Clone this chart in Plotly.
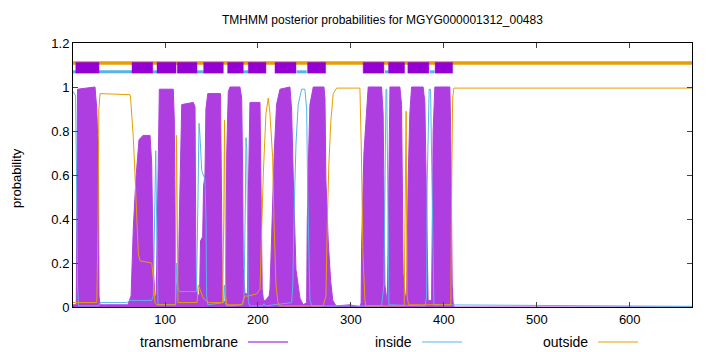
import plotly.graph_objects as go

title = "TMHMM posterior probabilities for MGYG000001312_00483"
seq_len = 667

# transmembrane posterior (residue, probability) breakpoints
tm_x = [1, 4.5, 5.0, 5.9, 24.7, 26.6, 27.5, 28.3, 29.0, 30, 35, 60, 63.5, 64.2, 65.9, 68.8, 72.0, 76.3,
        83.9, 85.7, 87.4, 89.2, 90.5, 91.1, 92.5, 93.9, 108.9, 110.0, 111.0, 111.5, 112.6, 114.5, 115.4,
        117, 118, 130.4, 132.3, 133.3, 134.7, 137.1, 138.2, 140.5, 141.5, 143, 144, 146, 159.7, 160.8,
        161.8, 162.7, 165.3, 165.8, 166.4, 168.1, 169.9, 180.6, 182.5, 183.6, 184.2, 186.0, 188.8, 189.6,
        191.4, 202.2, 203.2, 204.6, 206, 208, 212, 212.9, 214.7, 217.5, 220, 223.7, 234.4, 236.2, 238.0,
        240.9, 245.2, 248.7, 252.4, 253.0, 254.5, 255.9, 259.5, 271.0, 272.1, 273.1, 275.6, 278.2, 280.5,
        284, 298.9, 310, 311, 311.5, 314.0, 316.9, 318.6, 333.0, 334.7, 336.6, 339, 339.5, 340.5, 341.2,
        342, 352.7, 354.5, 355.5, 356.2, 358.5, 360, 361.6, 363.4, 365.3, 377.7, 379.6, 381.4, 383.1,
        386.8, 387.4, 388.5, 390.3, 406.5, 407.5, 408.5, 409.0, 410.0, 411, 667]
tm_y = [0.01, 0.01, 0.35, 0.99, 1.0, 0.9, 0.78, 0.75, 0.05, 0.01, 0.01, 0.01, 0.05, 0.14, 0.36, 0.59, 0.76, 0.78,
        0.78, 0.65, 0.17, 0.05, 0.05, 0.2, 0.7, 0.99, 0.99, 0.85, 0.3, 0.05, 0.1, 0.15, 0.4,
        0.85, 0.92, 0.93, 0.91, 0.12, 0.06, 0.05, 0.3, 0.32, 0.55, 0.6, 0.9, 0.97, 0.97, 0.5,
        0.03, 0.02, 0.03, 0.3, 0.7, 0.98, 1.0, 1.0, 0.95, 0.6, 0.18, 0.06, 0.06, 0.5,
        0.93, 0.93, 0.61, 0.08, 0.03, 0.03, 0.05, 0.08, 0.32, 0.7, 0.92, 0.99, 1.0, 0.9, 0.59,
        0.17, 0.04, 0.01, 0.02, 0.38, 0.7, 0.92, 1.0, 1.0, 0.95, 0.58, 0.3, 0.12, 0.03,
        0.005, 0.01, 0.0, 0.02, 0.27, 0.7, 0.92, 1.0, 1.0, 0.88, 0.1, 0.02, 0.1, 0.6, 0.92,
        1.0, 1.0, 0.92, 0.5, 0.15, 0.05, 0.05, 0.58, 0.88, 1.0, 1.0, 0.93, 0.5, 0.03,
        0.03, 0.4, 0.8, 1.0, 1.0, 0.77, 0.3, 0.1, 0.02, 0.0, 0.0]

# inside posterior
in_x = [1, 3.8, 4.8, 5.9, 7.0, 28.8, 30.1, 58.8, 62.4, 85.7, 87.4, 88.5, 90.0, 91.0, 91.7, 92.5, 111.5,
        112.0, 112.6, 113.5, 114.3, 116, 133.8, 135.5, 136.6, 137.6, 139.5, 143.0, 144.1, 144.8, 146,
        163.0, 163.8, 164.8, 166, 183.5, 185, 186.5, 187.1, 188.0, 188.8, 189.6, 191, 205, 206.5, 208,
        236.2, 237.5, 239, 241, 243.3, 247, 250.5, 252.4, 253.4, 254.8, 255.9, 258, 333, 335.5, 336.6,
        337.8, 338.6, 339.5, 340.9, 380, 381.4, 382.0, 384.2, 385.7, 387.4, 389.3, 667]
in_y = [0.98, 0.96, 0.6, 0.1, 0.005, 0.005, 0.02, 0.02, 0.03, 0.03, 0.05, 0.4, 0.71, 0.4, 0.08, 0.01, 0.01,
        0.1, 0.2, 0.1, 0.08, 0.07, 0.07, 0.5, 0.835, 0.78, 0.62, 0.58, 0.4, 0.05, 0.01,
        0.02, 0.1, 0.02, 0.005, 0.01, 0.05, 0.5, 0.77, 0.72, 0.3, 0.03, 0.005, 0.005, 0.015, 0.005,
        0.02, 0.1, 0.45, 0.75, 0.92, 0.99, 0.99, 0.9, 0.55, 0.15, 0.03, 0.005, 0.005, 0.1, 0.6,
        0.99, 0.99, 0.6, 0.01, 0.005, 0.05, 0.55, 0.99, 0.99, 0.55, 0.01, 0.003]

# outside posterior
out_x = [1, 26.6, 28.0, 28.8, 30.1, 62.4, 63.1, 65.9, 67.7, 69.6, 71.3, 73.1, 85.7, 87.4, 89.2, 91, 111.2,
         111.8, 112.4, 113.0, 114.0, 134.5, 135.8, 137.6, 141.2, 146.6, 162.0, 163.2, 164.0, 164.8, 165.3,
         166.5, 182.5, 186.0, 189.6, 198.6, 202.2, 204.0, 205.7, 208.6, 211.1, 212.9, 215.8, 217.2, 219.4,
         221.5, 223, 270.2, 273.1, 274.7, 276.3, 278.5, 281.0, 284.6, 309.7, 311.3, 312.9, 315.1, 316,
         357.3, 358.5, 359.4, 360.0, 360.5, 362, 407.5, 408.3, 409.5, 410.8, 667]
out_y = [0.02, 0.02, 0.4, 0.9, 0.97, 0.965, 0.94, 0.77, 0.6, 0.42, 0.24, 0.21, 0.2, 0.13, 0.02, 0.01, 0.01,
         0.5, 0.78, 0.5, 0.02, 0.02, 0.1, 0.08, 0.04, 0.02, 0.02, 0.4, 0.85, 0.4, 0.05,
         0.01, 0.01, 0.05, 0.05, 0.06, 0.08, 0.35, 0.6, 0.88, 0.95, 0.88, 0.68, 0.4, 0.1,
         0.02, 0.005, 0.005, 0.05, 0.4, 0.65, 0.85, 0.97, 0.995, 0.995, 0.7, 0.25, 0.03, 0.005,
         0.005, 0.4, 0.89, 0.4, 0.05, 0.01, 0.01, 0.5, 0.95, 0.995, 0.995]

# predicted topology strip
tm_segments = [(4, 29), (64.5, 86.8), (91.4, 111.8), (113.2, 134.4), (141.6, 162.7), (167.4, 184.2),
               (189.6, 208.6), (218.3, 240.9), (253.4, 272.8), (313.2, 335.5), (340.5, 357.7),
               (361.3, 383.9), (390.6, 409.4)]
inside_segments = [(1, 5), (29, 64.5), (86.8, 91.4), (134.4, 141.6), (184.2, 189.6), (241.6, 252.4),
                   (336.6, 340.5), (385, 390)]
outside_segments = [(1, seq_len)]

PURPLE = "#9400D3"
FILLP = "#ae3edf"
BLUE = "#56B4E9"
ORANGE = "#E69F00"
FONT = "Liberation Sans, Arial, sans-serif"

fig = go.Figure()
fig.add_trace(go.Scatter(x=tm_x, y=tm_y, mode="lines", fill="tozeroy", fillcolor=FILLP,
                         line=dict(color=FILLP, width=1), showlegend=False))
fig.add_trace(go.Scatter(x=in_x, y=in_y, mode="lines", line=dict(color=BLUE, width=1), showlegend=False))
fig.add_trace(go.Scatter(x=out_x, y=out_y, mode="lines", line=dict(color=ORANGE, width=1), showlegend=False))

for a, b in outside_segments:
    fig.add_shape(type="line", xref="x", yref="y", x0=a, x1=b, y0=1.109, y1=1.109,
                  line=dict(color=ORANGE, width=3.5))
for a, b in inside_segments:
    fig.add_shape(type="line", xref="x", yref="y", x0=a, x1=b, y0=1.069, y1=1.069,
                  line=dict(color=BLUE, width=3))
for a, b in tm_segments:
    fig.add_shape(type="rect", xref="x", yref="y", x0=a, x1=b, y0=1.063, y1=1.112,
                  fillcolor=PURPLE, line=dict(color="rgba(148,0,211,0.45)", width=1))

# legend (bottom)
legend_items = [("transmembrane", PURPLE), ("inside", BLUE), ("outside", ORANGE)]
legend_text_right = [240, 414, 590]
W0, PW, H0, PH = 73, 619, 307, 264
for (name, col), xr in zip(legend_items, legend_text_right):
    fig.add_annotation(x=(xr - W0) / PW, y=(H0 - 342) / PH, xref="paper", yref="paper",
                       text=name, showarrow=False, xanchor="right", yanchor="middle",
                       font=dict(family=FONT, size=14, color="black"))
    fig.add_shape(type="line", xref="paper", yref="paper",
                  x0=(xr + 8 - W0) / PW, x1=(xr + 48 - W0) / PW,
                  y0=(H0 - 342) / PH, y1=(H0 - 342) / PH, line=dict(color=col, width=1))

fig.add_annotation(x=0.5, y=(H0 - 20) / PH, xref="paper", yref="paper", text=title, showarrow=False,
                   xanchor="center", yanchor="middle", font=dict(family=FONT, size=12, color="black"))
fig.add_annotation(x=(16 - W0) / PW, y=(H0 - 178) / PH, xref="paper", yref="paper", text="probability",
                   showarrow=False, textangle=-90, xanchor="center", yanchor="middle",
                   font=dict(family=FONT, size=13, color="black"))

fig.update_layout(
    width=720, height=352, margin=dict(l=73, r=28, t=43, b=45),
    paper_bgcolor="white", plot_bgcolor="white", showlegend=False,
    font=dict(family=FONT, size=12, color="black"),
)
fig.update_xaxes(range=[1, seq_len], tickvals=[100, 200, 300, 400, 500, 600], ticks="inside", ticklen=5,
                 showline=True, linecolor="black", linewidth=1, mirror="allticks", showgrid=False,
                 zeroline=False, tickfont=dict(family=FONT, size=13, color="black"))
fig.update_yaxes(range=[0, 1.2], tickvals=[0, 0.2, 0.4, 0.6, 0.8, 1, 1.2],
                 ticktext=["0", "0.2", "0.4", "0.6", "0.8", "1", "1.2"], ticks="inside", ticklen=5,
                 showline=True, linecolor="black", linewidth=1, mirror="allticks", showgrid=False,
                 zeroline=False, tickfont=dict(family=FONT, size=13, color="black"))

fig.write_html("out.html")
